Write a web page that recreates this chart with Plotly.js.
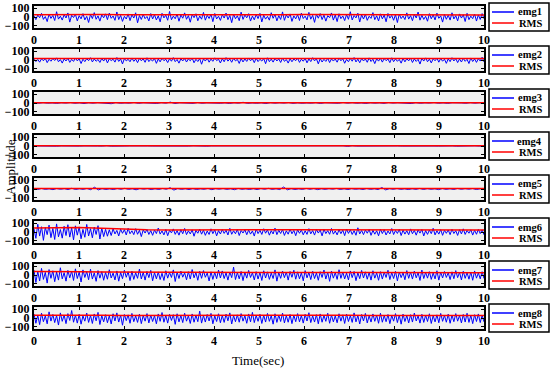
<!DOCTYPE html>
<html>
<head>
<meta charset="utf-8">
<script src="https://cdn.plot.ly/plotly-3.0.1.min.js"></script>
<style>html,body{margin:0;padding:0;background:#fff;}#chart{width:550px;height:373px;}</style>
</head>
<body>
<div id="chart"></div>
<script>
// ---- data ----
const channelNames = ['emg1','emg2','emg3','emg4','emg5','emg6','emg7','emg8'];
const rmsName = 'RMS';
const xTicks = [0,1,2,3,4,5,6,7,8,9,10];
const yTicks = [-100,0,100];
const durationSec = 10;

const emg1 = [12,-30,22,-8,41,-27,5,-52,33,-16,18,-40,60,-24,9,-35,27,-11,46,-58,
 20,-6,31,-44,15,-21,38,-33,7,-62,29,-18,50,-26,13,-47,24,-9,36,-30,
 44,-15,11,-38,57,-29,19,-50,8,-23,35,-41,26,-12,48,-66,17,-28,30,-19,
 6,-45,39,-22,25,-34,14,-55,42,-10,21,-37,63,-31,10,-20,34,-48,23,-14,
 47,-26,16,-59,28,-8,37,-43,12,-25,52,-36,19,-17,31,-53,40,-22,9,-39,
 26,-12,45,-30,18,-64,33,-20,14,-42,55,-27,22,-9,38,-46,11,-32,29,-18,
 41,-56,20,-24,7,-36,49,-15,30,-44,16,-28,58,-38,24,-11,35,-50,13,-21,
 27,-40,44,-17,10,-33,53,-25,19,-61,32,-14,39,-29,21,-47,15,-8,46,-35,
 23,-52,37,-19,12,-41,28,-26,60,-34,17,-10,43,-57,25,-23,31,-38,9,-16,
 50,-30,14,-45,36,-21,22,-54,40,-13,18,-37,27,-63,34,-18,11,-29,47,-24,
 16,-42,32,-11,56,-36,20,-27,8,-48,38,-20,25,-33,44,-15,13,-58,30,-26,
 21,-35,48,-22,15,-44,35,-12,26,-51,42,-30,10,-19,33,-46,24,-28,39,-20];
const emg2 = [10,-18,6,-25,14,-9,20,-30,8,-14,17,-6,24,-20,5,-35,12,-11,19,-27,
 7,-16,22,-10,13,-40,9,-19,15,-8,26,-22,11,-14,6,-28,18,-12,21,-33,
 14,-7,9,-24,28,-16,12,-45,16,-10,8,-20,23,-15,10,-30,19,-9,13,-26,
 25,-18,7,-12,17,-38,11,-21,20,-8,9,-29,15,-14,27,-19,6,-36,14,-11,
 18,-23,12,-9,22,-31,8,-17,16,-48,13,-12,21,-25,10,-15,24,-7,9,-34,
 15,-20,27,-13,11,-26,19,-10,7,-39,17,-22,12,-16,23,-9,14,-30,20,-18,
 8,-12,16,-42,25,-19,10,-24,18,-11,13,-28,22,-15,6,-35,15,-20,11,-8,
 21,-27,9,-14,19,-32,12,-18,26,-10,14,-44,17,-23,8,-16,20,-29,13,-12,
 11,-25,23,-9,15,-37,7,-20,18,-14,28,-22,10,-31,16,-11,12,-26,24,-17,
 9,-41,14,-13,20,-24,16,-8,11,-30,25,-19,13,-15,7,-36,19,-21,15,-10,
 22,-28,12,-16,8,-46,18,-12,24,-20,10,-33,14,-9,21,-25,17,-14,9,-38,
 13,-19,26,-11,16,-29,11,-23,19,-15,8,-40,23,-17,12,-27,15,-12,32,-22];
const emg3 = [2,-3,4,-2,1,-4,3,-1,5,-3,2,-6,3,-2,4,-1,2,-8,5,-3,
 1,-2,6,-4,3,-1,2,-5,4,-2,10,-6,3,-2,1,-4,5,-3,2,-1,
 4,-3,2,-5,3,-2,8,-4,1,-3,2,-6,4,-2,3,-1,5,-4,2,-3,
 1,-2,4,-5,3,-1,2,-3,6,-2,4,-3,1,-5,3,-2,2,-4,5,-1,
 3,-2,1,-6,4,-3,2,-1,5,-3,2,-4,3,-2,1,-3,4,-2,3,-1];
const emg4 = [1,-1,2,-1,0,-2,1,-1,2,0,-1,1,-2,1,0,-1,3,-2,1,-1,
 0,1,-1,2,-2,1,0,-1,1,-3,2,-1,0,1,-1,2,-1,0,-2,1,
 1,-1,5,-3,1,0,-1,2,-1,1,-2,0,1,-1,2,-2,1,-1,0,1,
 -1,2,-1,0,-2,1,1,-1,2,-4,3,-1,0,1,-2,1,-1,2,0,-1,
 1,-1,0,2,-2,1,-1,1,0,-1,2,-1,1,-2,0,1,-1,2,-1,0];
const emg5 = [3,-5,6,-4,2,-7,5,-3,4,-6,8,-5,3,-4,6,-8,20,-10,4,-5,
 2,-6,5,-3,7,-4,3,-9,5,-2,4,-6,3,-5,6,-3,14,-12,5,-4,
 3,-6,4,-5,2,-3,6,-7,4,-2,5,-4,3,-8,6,-3,2,-5,4,-6,
 5,-3,7,-4,3,-6,22,-9,4,-5,2,-4,6,-3,5,-7,3,-4,4,-2,
 6,-5,3,-6,4,-3,2,-5,5,-4,3,-6,16,-10,4,-3,5,-4,2,-6,
 3,-4,6,-5,4,-3,2,-7,5,-4,3,-5,6,-3,4,-2,5,-6,3,-4];
const emg6 = [35,-72,88,-46,60,-95,52,-30,78,-64,41,-85,92,-55,28,-70,65,-40,83,-58,
 47,-90,70,-36,58,-77,30,-60,86,-45,38,-66,55,-28,72,-80,44,-52,30,-48,
 25,-40,36,-22,18,-45,32,-15,27,-34,42,-20,14,-30,38,-26,20,-52,24,-12,
 30,-28,16,-38,22,-18,45,-24,12,-33,28,-42,19,-10,35,-27,15,-36,26,-20,
 40,-30,13,-22,24,-48,18,-14,32,-25,21,-38,11,-28,36,-19,25,-44,16,-23,
 28,-16,20,-34,42,-26,14,-20,30,-40,17,-12,26,-31,22,-24,12,-46,34,-18,
 19,-28,37,-14,24,-36,15,-22,44,-30,20,-17,28,-39,13,-25,33,-20,18,-42,
 26,-15,22,-32,14,-27,38,-21,17,-35,29,-12,23,-44,31,-18,16,-26,40,-24,
 12,-33,27,-19,21,-41,34,-16,25,-28,15,-37,48,-22,18,-30,22,-14,29,-38,
 20,-25,14,-43,32,-18,26,-34,11,-22,39,-29,17,-16,30,-40,21,-24,15,-31,
 35,-20,18,-36,24,-13,28,-45,16,-27,22,-19,42,-33,14,-24,27,-38,19,-15,
 23,-30,31,-17,15,-39,26,-22,36,-28,17,-14,25,-35,20,-26,29,-18,24,-32];
const emg7 = [55,-85,40,-68,75,-50,30,-92,62,-38,48,-76,35,-58,82,-44,26,-70,52,-32,
 44,-62,70,-40,33,-80,58,-28,40,-54,66,-46,24,-72,50,-36,38,-60,28,-48,
 60,-34,22,-56,46,-70,30,-42,54,-26,36,-64,42,-50,26,-38,68,-45,32,-58,
 40,-30,52,-66,28,-44,35,-52,20,-62,48,-36,30,-28,58,-74,34,-40,44,-25,
 25,-55,38,-46,62,-32,28,-60,42,-38,50,-26,22,-68,36,-50,30,-42,56,-34,
 46,-40,24,-58,34,-30,90,-52,28,-44,40,-64,32,-36,52,-28,26,-56,38,-46,
 30,-62,48,-34,36,-50,22,-40,58,-70,28,-38,44,-30,34,-58,40,-26,54,-48,
 36,-44,26,-66,50,-32,30,-52,42,-40,24,-60,38,-28,56,-46,32,-72,44,-36,
 28,-50,60,-38,34,-44,22,-56,46,-30,40,-64,26,-42,52,-34,36,-48,30,-58,
 48,-36,24,-60,38,-46,32,-28,54,-52,28,-40,42,-66,34,-30,26,-54,50,-38,
 34,-46,44,-32,28,-62,56,-40,30,-36,38,-50,24,-44,48,-58,32,-34,40,-28,
 26,-52,36,-42,50,-30,30,-56,42,-38,28,-48,34,-60,46,-36,24,-44,38,-40];
const emg8 = [45,-60,30,-75,55,-42,25,-66,70,-35,40,-52,28,-80,58,-38,34,-64,50,-28,
 85,-48,32,-58,42,-70,24,-36,56,-50,30,-62,46,-32,64,-74,28,-44,38,-54,
 26,-68,48,-34,58,-46,32,-82,40,-30,36,-60,52,-42,24,-50,44,-64,30,-36,
 50,-56,34,-40,26,-66,46,-38,62,-48,30,-58,42,-28,38,-72,48,-44,28,-52,
 54,-36,26,-62,46,-48,32,-42,78,-58,28,-46,40,-34,52,-66,24,-40,48,-54,
 30,-50,44,-32,58,-68,28,-42,36,-48,50,-36,26,-60,46,-44,64,-52,30,-38,
 42,-62,32,-46,52,-38,26,-70,48,-50,34,-40,56,-56,28,-48,40,-64,32,-42,
 50,-44,28,-58,42,-34,60,-52,26,-46,38,-66,46,-48,30,-38,54,-60,34,-44,
 24,-54,48,-36,36,-62,44,-40,28,-50,58,-44,30,-68,40,-34,52,-56,26,-46,
 46,-38,32,-60,54,-48,28,-42,40,-64,30,-36,50,-52,34,-70,44,-40,28,-56,
 38,-46,56,-34,26,-58,42,-50,32,-40,48,-62,28,-44,36,-54,52,-38,30,-48,
 44,-60,34,-42,50,-36,28,-56,40,-46,54,-50,30,-64,38,-40,46,-52,32,-44];

const rms1 = [25,28,26,27,25,24,27,26,25,28,26,25,27,26,24,26,27,25,26,25,24];
const rms2 = [18,17,18,16,17,18,17,16,18,17,18,16,17,18,17,16,17,18,17,16,17];
const rms3 = [4,4,5,4,4,5,4,4,4,5,4,4,5,4,4,4,5,4,4,4,4];
const rms4 = [2,2,2,2,2,2,2,2,2,2,2,2,2,2,2,2,2,2,2,2,2];
const rms5 = [6,6,6,5,6,6,6,5,6,6,6,6,5,6,6,6,6,5,6,6,6];
const rms6 = [45,48,50,44,32,25,24,26,25,24,26,25,24,23,25,24,26,25,24,25,24];
const rms7 = [40,42,38,35,33,30,28,30,27,26,28,27,25,26,27,28,27,26,25,26,25];
const rms8 = [30,32,30,31,29,30,28,30,29,31,30,28,29,30,31,29,28,30,29,30,28];

const emgSeries = [emg1,emg2,emg3,emg4,emg5,emg6,emg7,emg8];
const rmsSeries = [rms1,rms2,rms3,rms4,rms5,rms6,rms7,rms8];

// ---- layout geometry (pixels) ----
const W = 550, H = 373;
const mL = 34, mR = 66, mT = 6, mB = 44;
const plotH = H - mT - mB;          // 323
const plotW = W - mL - mR;          // 450
const panelH = 22, pitch = 43;
const px2x = p => (p - mL) / plotW;
const px2y = p => (mT + plotH - p) / plotH;

const serif = 'Liberation Serif, Times New Roman, serif';
const tickFont = {family: serif, size: 12, weight: 'bold', color: '#000'};
const legFont = {family: serif, size: 10.5, weight: 'bold', color: '#000'};
const blue = '#0000ff', red = '#ff0000';

const traces = [];
const layout = {
  width: W, height: H,
  margin: {l: mL, r: mR, t: mT, b: mB, pad: 0},
  paper_bgcolor: '#ffffff',
  plot_bgcolor: '#f0f0f0',
  showlegend: false,
  annotations: [],
  shapes: [],
  font: {family: serif, color: '#000'}
};

for (let i = 0; i < 8; i++) {
  const s = i === 0 ? '' : String(i + 1);
  const topPx = mT + pitch * i;
  const botPx = topPx + panelH;

  traces.push({
    type: 'scatter', mode: 'lines',
    y: emgSeries[i], x0: 0, dx: durationSec / (emgSeries[i].length - 1),
    line: {color: blue, width: 1},
    name: channelNames[i], xaxis: 'x' + s, yaxis: 'y' + s, hoverinfo: 'skip'
  });
  traces.push({
    type: 'scatter', mode: 'lines',
    y: rmsSeries[i], x0: 0, dx: durationSec / (rmsSeries[i].length - 1),
    line: {color: red, width: 1.5},
    name: rmsName, xaxis: 'x' + s, yaxis: 'y' + s, hoverinfo: 'skip'
  });

  layout['xaxis' + s] = {
    anchor: 'y' + s, domain: [0, 1], range: [0, 10],
    tickvals: xTicks, ticks: 'inside', ticklen: 3, tickwidth: 1, tickcolor: '#000',
    showline: true, linecolor: '#000', linewidth: 2, mirror: 'ticks',
    showgrid: false, zeroline: false, tickfont: tickFont
  };
  layout['yaxis' + s] = {
    anchor: 'x' + s, domain: [px2y(botPx), px2y(topPx)], range: [-125, 125],
    tickvals: yTicks, ticks: 'inside', ticklen: 3, tickwidth: 1, tickcolor: '#000',
    showline: true, linecolor: '#000', linewidth: 2, mirror: 'ticks',
    showgrid: false, zeroline: false, tickfont: tickFont
  };

  // legend box (drawn by hand so it does not push the margins)
  const lt = topPx - 3, lb = topPx + 25;
  layout.shapes.push({type: 'rect', xref: 'paper', yref: 'paper',
    x0: px2x(489), x1: px2x(549), y0: px2y(lb), y1: px2y(lt),
    line: {color: '#000', width: 1.5}, fillcolor: '#ffffff'});
  const e1 = topPx + 6, e2 = topPx + 17;
  layout.shapes.push({type: 'line', xref: 'paper', yref: 'paper',
    x0: px2x(492), x1: px2x(514), y0: px2y(e1), y1: px2y(e1),
    line: {color: blue, width: 1.5}});
  layout.shapes.push({type: 'line', xref: 'paper', yref: 'paper',
    x0: px2x(492), x1: px2x(514), y0: px2y(e2), y1: px2y(e2),
    line: {color: red, width: 1.5}});
  layout.annotations.push({text: channelNames[i], xref: 'paper', yref: 'paper',
    x: px2x(544), y: px2y(e1), xanchor: 'right', yanchor: 'middle',
    showarrow: false, font: legFont});
  layout.annotations.push({text: rmsName, xref: 'paper', yref: 'paper',
    x: px2x(544), y: px2y(e2), xanchor: 'right', yanchor: 'middle',
    showarrow: false, font: legFont});
}

layout.annotations.push({
  text: 'Amplitude', xref: 'paper', yref: 'paper',
  x: px2x(10), y: px2y(167), xanchor: 'center', yanchor: 'middle',
  showarrow: false, textangle: -90, font: {family: serif, size: 13, color: '#000'}
});
layout.annotations.push({
  text: 'Time(sec)', xref: 'paper', yref: 'paper',
  x: px2x(258), y: px2y(360), xanchor: 'center', yanchor: 'middle',
  showarrow: false, font: {family: serif, size: 13, color: '#000'}
});

Plotly.newPlot('chart', traces, layout, {displayModeBar: false, staticPlot: true});
</script>
</body>
</html>
